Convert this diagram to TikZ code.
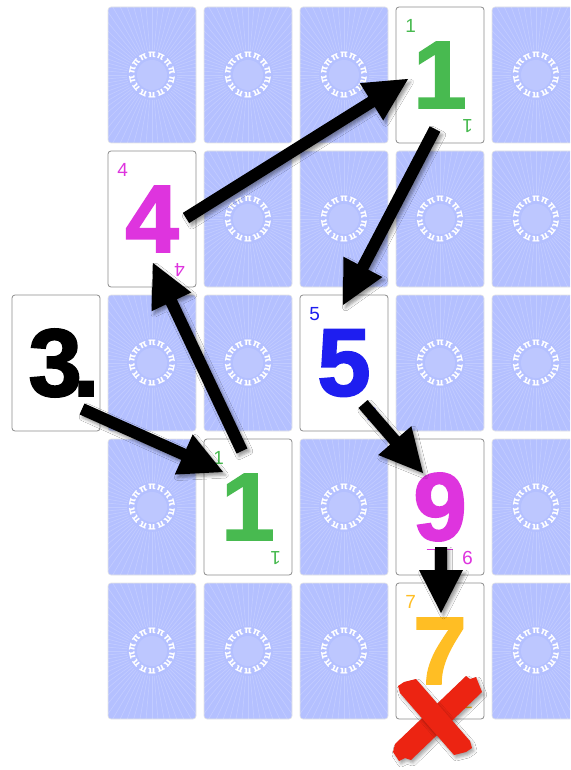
\documentclass[tikz,border=0pt]{standalone}
\usepackage{fontspec}
\setmainfont{Liberation Sans}
\newfontfamily\pifont{DejaVu Sans}
\newfontfamily\heavyfont[FakeBold=2]{Liberation Sans Bold}
\usetikzlibrary{calc,shadows.blur}
\definecolor{backblue}{RGB}{180,192,255}
\definecolor{cgreen}{RGB}{72,186,80}
\definecolor{cmag}{RGB}{222,52,222}
\definecolor{cblue}{RGB}{30,30,240}
\definecolor{corange}{RGB}{255,190,36}
\definecolor{cred}{RGB}{236,36,18}
\tikzset{
  cardbox/.style={minimum width=88pt, minimum height=136pt, inner sep=0pt, rounded corners=3pt},
  backcard/.style={cardbox, fill=backblue, draw=black!10, line width=0.6pt},
  facecard/.style={cardbox, fill=white, draw=black!45, line width=0.8pt},
  bigdigit/.style={inner sep=0pt, font=\heavyfont\fontsize{96}{96}\selectfont},
  smalldigit/.style={inner sep=0pt, font=\fontsize{19}{19}\selectfont},
  pisym/.style={inner sep=0pt, text=white, font=\pifont\bfseries\fontsize{10}{10}\selectfont},
  arrowfill/.style={fill=black, blur shadow={shadow xshift=2.5pt, shadow yshift=-3pt, shadow blur radius=3pt, shadow opacity=40}},
  crossfill/.style={fill=cred, blur shadow={shadow xshift=2pt, shadow yshift=-3pt, shadow blur radius=3pt, shadow opacity=35}}
}
\newcommand\cardbackat[3]{%
  \node[backcard] (#1) at (#2+44,#3+68) {};
  \begin{scope}
    \clip[rounded corners=3pt] (#1.south west) rectangle (#1.north east);
    \foreach \a in {0,5,...,355} \draw[white, opacity=0.18, line width=0.7pt] ($(#1.center)+(\a:25)$) -- ++(\a:90);
    \fill[white, opacity=0.12] (#1.center) circle (15);
  \end{scope}
  \begin{scope}[shift={(#1.center)}, yscale=-1]
    \foreach \k in {0,...,13}{\pgfmathsetmacro\ang{90+\k*360/14}
      \node[pisym, rotate=\ang-90] at (\ang:20) {π};}
  \end{scope}}
\newcommand\facecardat[5]{%
  \node[facecard] (#1) at (#2+44,#3+68) {};
  \node[bigdigit, text=#4] (#1-big) at (#1.center) {#5};
  \node[smalldigit, text=#4] (#1-tl) at ($(#1.north west)+(15,19)$) {#5};
  \node[smalldigit, text=#4, rotate=180] (#1-br) at ($(#1.north west)+(72,119)$) {#5};}
\newcommand\bigarrow[2]{%
  \path ($(#2)!43pt!(#1)$) coordinate (hb);
  \fill[arrowfill] ($(#1)!6pt!90:(#2)$) -- ($(hb)!6pt!90:(#2)$) -- ($(hb)!22pt!90:(#2)$) -- (#2)
    -- ($(hb)!22pt!-90:(#2)$) -- ($(hb)!6pt!-90:(#2)$) -- ($(#1)!6pt!-90:(#2)$) -- cycle;}
\begin{document}
\begin{tikzpicture}[x=1pt,y=-1pt]
\useasboundingbox (0,0) rectangle (570,770);
\clip (0,0) rectangle (570,770);
\fill[white] (0,0) rectangle (570,770);
% card backs
\foreach \c/\r in {0/0,1/0,2/0,4/0,1/1,2/1,3/1,4/1,0/2,1/2,3/2,4/2,0/3,2/3,4/3,0/4,1/4,2/4,4/4}{
  \cardbackat{back\c\r}{108+96*\c}{7+144*\r}}
% face-up cards
\facecardat{onea}{396}{7}{cgreen}{1}
\facecardat{four}{108}{151}{cmag}{4}
\facecardat{five}{300}{295}{cblue}{5}
\facecardat{oneb}{204}{439}{cgreen}{1}
\facecardat{nine}{396}{439}{cmag}{9}
\facecardat{seven}{396}{583}{corange}{7}
\draw[cmag, line width=0.8pt] ($(nine.north west)+(31,111)$) -- ($(nine.north west)+(57,111)$);
% 3. card
\node[facecard] (three) at (56,363) {};
\node[bigdigit, text=black] (threetext) at (64,363) {3\kern-9pt.};
% arrow ends
\coordinate (a1s) at (82,409);  \coordinate (a1e) at (223,472);
\coordinate (a2s) at (242,451); \coordinate (a2e) at (153,263);
\coordinate (a3s) at (186,218); \coordinate (a3e) at (408,79);
\coordinate (a4s) at (435,129); \coordinate (a4e) at (343,305);
\coordinate (a5s) at (363,404); \coordinate (a5e) at (423,473);
\coordinate (a6s) at (441,547); \coordinate (a6e) at (441,613);
\bigarrow{a1s}{a1e}
\bigarrow{a2s}{a2e}
\bigarrow{a3s}{a3e}
\bigarrow{a4s}{a4e}
\bigarrow{a5s}{a5e}
\bigarrow{a6s}{a6e}
% red cross
\fill[crossfill] (395,744) -- (466,676) -- (470,679) -- (476,677) -- (482,692) -- (411,760) -- (405,758) -- (399,761) -- (393,752) -- cycle;
\fill[crossfill] (416,679) -- (470,741) -- (472,748) -- (466,752) -- (454,755) -- (400,693) -- (398,686) -- (404,682) -- cycle;
\end{tikzpicture}
\end{document}
